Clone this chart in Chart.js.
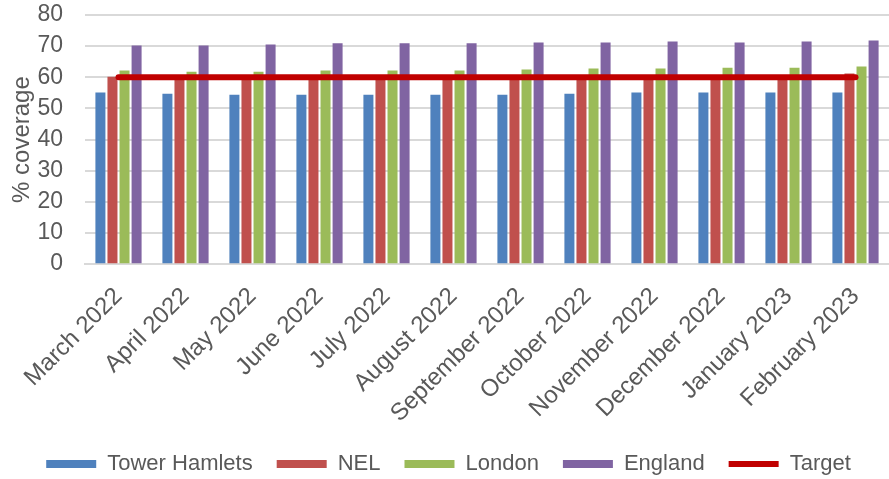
<!DOCTYPE html>
<html>
<head>
<meta charset="utf-8">
<script src="https://cdn.jsdelivr.net/npm/chart.js@4/dist/chart.umd.min.js"></script>
<style>
  html, body { margin: 0; padding: 0; background: #fff; }
  #wrap { width: 889px; height: 479px; }
</style>
</head>
<body>
<div id="wrap"><canvas id="coverageChart"></canvas></div>
<script>
// Months shown on the x axis
const months = ['March 2022', 'April 2022', 'May 2022', 'June 2022', 'July 2022', 'August 2022',
  'September 2022', 'October 2022', 'November 2022', 'December 2022', 'January 2023', 'February 2023'];

// % coverage per area
const towerHamlets = [55.1, 54.7, 54.4, 54.4, 54.4, 54.4, 54.4, 54.7, 55.1, 55.1, 55.1, 55.1];
const nel = [60.2, 60.0, 59.9, 59.9, 59.9, 59.9, 60.0, 60.1, 60.3, 60.4, 60.5, 61.2];
const london = [62.2, 61.8, 61.8, 62.2, 62.2, 62.2, 62.5, 62.8, 62.8, 63.1, 63.1, 63.5];
const england = [70.2, 70.2, 70.5, 70.9, 70.9, 70.9, 71.2, 71.2, 71.5, 71.2, 71.5, 71.8];
const target = [60, 60, 60, 60, 60, 60, 60, 60, 60, 60, 60, 60];

const yTicks = [0, 10, 20, 30, 40, 50, 60, 70, 80];

document.addEventListener('DOMContentLoaded', function () {
    Chart.defaults.font.family = '"Liberation Sans", Arial, sans-serif';
    Chart.defaults.color = '#595959';

    const ctx = document.getElementById('coverageChart').getContext('2d');

    function barSet(label, values, colour) {
        return {
            type: 'bar',
            label: label,
            data: values,
            backgroundColor: colour,
            borderWidth: 0,
            pointStyle: 'rect',
            categoryPercentage: 0.72,
            barPercentage: 0.83,
            order: 2
        };
    }

    new Chart(ctx, {
        type: 'bar',
        data: {
            labels: months,
            datasets: [
                barSet('Tower Hamlets', towerHamlets, '#4F81BD'),
                barSet('NEL', nel, '#C0504D'),
                barSet('London', london, '#9BBB59'),
                barSet('England', england, '#8064A2'),
                {
                    type: 'line',
                    label: 'Target',
                    data: target,
                    borderColor: '#C00000',
                    backgroundColor: '#C00000',
                    borderWidth: 6,
                    pointRadius: 0,
                    pointStyle: 'line',
                    borderCapStyle: 'round',
                    order: 1
                }
            ]
        },
        options: {
            responsive: true,
            maintainAspectRatio: false,
            animation: false,
            layout: { padding: { left: 8, right: 0, top: 0, bottom: -6 } },
            plugins: {
                tooltip: { enabled: false },
                legend: {
                    position: 'bottom',
                    labels: {
                        usePointStyle: true,
                        pointStyleWidth: 50,
                        boxHeight: 8,
                        padding: 24,
                        font: { size: 22 },
                        color: '#595959',
                        sort: (a, b) => a.datasetIndex - b.datasetIndex
                    }
                }
            },
            scales: {
                x: {
                    grid: { display: false },
                    border: { color: '#D9D9D9', width: 2 },
                    ticks: {
                        font: { size: 24 },
                        color: '#595959',
                        maxRotation: 45,
                        minRotation: 45,
                        autoSkip: false,
                        padding: 10
                    },
                    afterFit: function (axis) {
                        // let the rotated first label hang past the plot edge
                        axis.paddingLeft = 0;
                        axis.paddingRight = 0;
                        axis.height -= 9;
                    }
                },
                y: {
                    min: 0,
                    max: 80,
                    afterBuildTicks: function (axis) {
                        axis.ticks = yTicks.map(v => ({ value: v }));
                    },
                    afterFit: function (axis) {
                        axis.width = 77;
                        axis.paddingTop = 15;
                        axis.paddingBottom = 0;
                    },
                    grid: { color: '#D9D9D9', lineWidth: 2, drawTicks: false },
                    border: { display: false },
                    ticks: {
                        font: { size: 23 },
                        color: '#595959',
                        padding: 22,
                        autoSkip: false
                    },
                    title: {
                        display: true,
                        text: '% coverage',
                        font: { size: 24 },
                        color: '#595959',
                        padding: 0
                    }
                }
            }
        }
    });
});
</script>
</body>
</html>
